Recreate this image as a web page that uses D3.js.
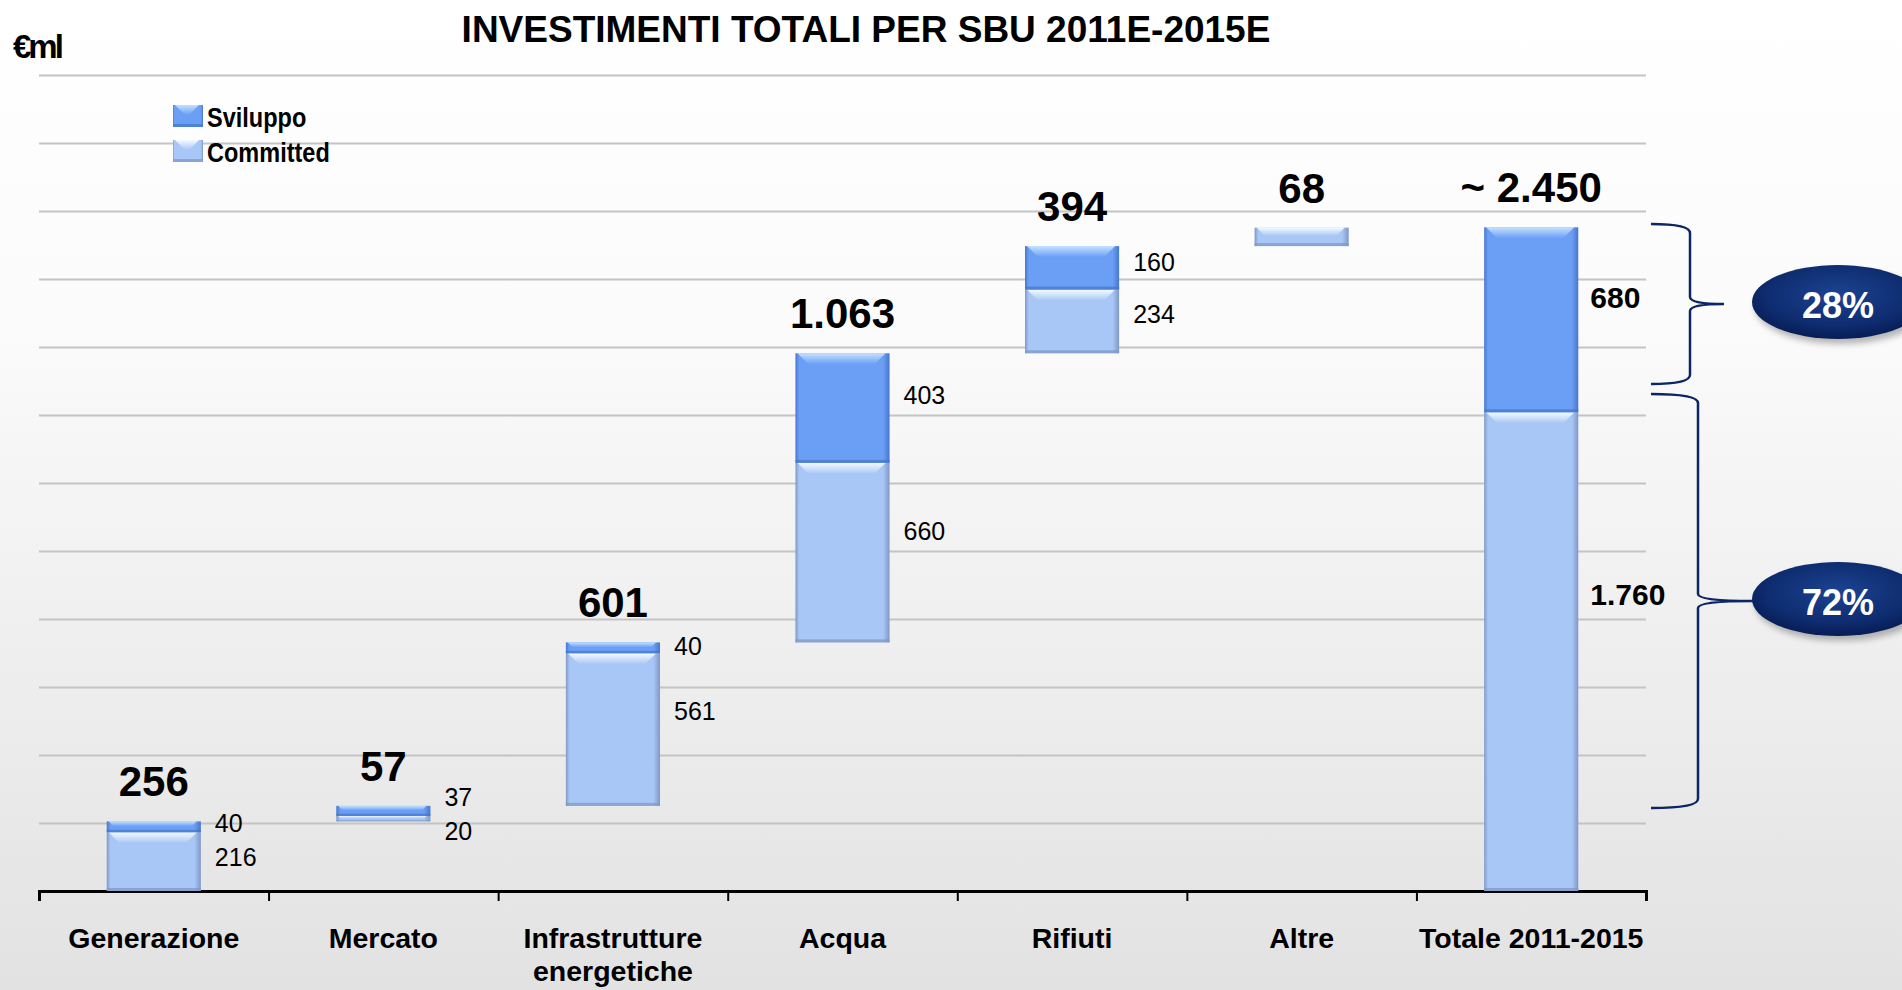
<!DOCTYPE html>
<html>
<head>
<meta charset="utf-8">
<script src="https://cdn.jsdelivr.net/npm/d3@7"></script>
<style>
    html, body { margin: 0; padding: 0; overflow: hidden; background: #fff; }
    svg { display: block; }
    text { font-family: "Liberation Sans", Arial, sans-serif; }
</style>
</head>
<body>
<svg id="main"></svg>
<script>
const width = 1902;
const height = 990;
const position = {
    left: 39,
    top: 75,
    right: 256,
    bottom: 99
};
const innerWidth = width - position.left - position.right;
const innerHeight = height - position.top - position.bottom;

// dati (milioni di euro)
const categories = ['Generazione', 'Mercato', 'Infrastrutture energetiche', 'Acqua', 'Rifiuti', 'Altre', 'Totale 2011-2015'];
const committed = [216, 20, 561, 660, 234, 68, 1760];
const sviluppo = [40, 37, 40, 403, 160, 0, 680];
const seriesNames = ['Sviluppo', 'Committed'];
const shareLabels = ['28%', '72%'];
const yTicks = d3.range(250, 3001, 250);

const it = d3.formatLocale({ decimal: ',', thousands: '.', grouping: [3], currency: ['€', ''] });
const fmt = it.format(',d');

// cascata: ogni SBU parte dove finisce la precedente, il totale parte da zero
let running = 0;
const rows = categories.map((name, i) => {
    const isTotal = i === categories.length - 1;
    const base = isTotal ? 0 : running;
    const total = committed[i] + sviluppo[i];
    if (!isTotal) running += total;
    return { name, base, total, isTotal, committed: committed[i], sviluppo: sviluppo[i] };
});

const mainSvg = d3.select('#main').attr('width', width).attr('height', height);

const colors = {
    sv: { base: '#6b9ff6', dark: '#4677cc', light: '#c4e2ff' },
    co: { base: '#a8c7f6', dark: '#8098c6', light: '#f4fbff' }
};

const defs = mainSvg.append('defs');
const bg = defs.append('linearGradient').attr('id', 'bg').attr('x1', 0).attr('y1', 0).attr('x2', 0).attr('y2', 1);
bg.append('stop').attr('offset', '0%').attr('stop-color', '#ffffff');
bg.append('stop').attr('offset', '32%').attr('stop-color', '#fbfbfb');
bg.append('stop').attr('offset', '100%').attr('stop-color', '#e2e2e2');

Object.keys(colors).forEach(k => {
    const c = colors[k];
    const side = defs.append('linearGradient').attr('id', `side-${k}`);
    side.append('stop').attr('offset', '0%').attr('stop-color', c.dark);
    side.append('stop').attr('offset', '4%').attr('stop-color', c.base);
    side.append('stop').attr('offset', '93%').attr('stop-color', c.base);
    side.append('stop').attr('offset', '100%').attr('stop-color', c.dark);
    const hl = defs.append('linearGradient').attr('id', `hl-${k}`).attr('x1', 0).attr('y1', 0).attr('x2', 0).attr('y2', 1);
    hl.append('stop').attr('offset', '0%').attr('stop-color', c.light);
    hl.append('stop').attr('offset', '100%').attr('stop-color', c.base);
});

const pill = defs.append('radialGradient').attr('id', 'pill').attr('cx', '50%').attr('cy', '40%').attr('r', '60%');
pill.append('stop').attr('offset', '0%').attr('stop-color', '#1c4392');
pill.append('stop').attr('offset', '70%').attr('stop-color', '#0e2c6f');
pill.append('stop').attr('offset', '100%').attr('stop-color', '#071d55');
defs.append('filter').attr('id', 'blur').append('feGaussianBlur').attr('stdDeviation', 3);

mainSvg.append('rect').attr('width', width).attr('height', height).attr('fill', 'url(#bg)');

const mainGroup = mainSvg
    .append('g')
    .attr('transform', `translate(${position.left}, ${position.top})`);

// scale
const xScale = d3
    .scaleBand()
    .domain(categories)
    .range([0, innerWidth])
    .paddingInner(0.59)
    .paddingOuter(0.295);
const yScale = d3
    .scaleLinear()
    .domain([0, 3000])
    .range([innerHeight, 0]);

// griglia
const grid = mainGroup
    .append('g')
    .attr('class', 'grid')
    .call(d3.axisLeft(yScale).tickValues(yTicks).tickSize(-innerWidth).tickFormat(''));
grid.select('.domain').remove();
grid.selectAll('line').attr('stroke', '#c4c4c4').attr('stroke-width', 2);

// asse x: tacche ai confini tra le categorie
const edgeScale = d3.scaleLinear().domain([0, categories.length]).range([0, innerWidth]);
const edgeAxis = mainGroup
    .append('g')
    .attr('transform', `translate(0,${innerHeight})`)
    .call(d3.axisBottom(edgeScale).tickValues(d3.range(categories.length + 1)).tickSize(10).tickSizeOuter(10).tickFormat(''));
edgeAxis.select('.domain').attr('stroke', '#000').attr('stroke-width', 3);
edgeAxis.selectAll('line').attr('stroke', '#000').attr('stroke-width', 2);

const labelAxis = mainGroup
    .append('g')
    .attr('transform', `translate(0,${innerHeight})`)
    .call(d3.axisBottom(xScale).tickSize(0).tickPadding(37));
labelAxis.select('.domain').remove();
labelAxis
    .selectAll('text')
    .attr('fill', '#000')
    .attr('font-size', 28.5)
    .attr('font-weight', 'bold')
    .each(function (d) {
        const t = d3.select(this);
        if (this.getComputedTextLength() > xScale.step() * 1.1) {
            const words = d.split(' ');
            t.text(null);
            words.forEach((w, j) => {
                t.append('tspan').attr('x', 0).attr('dy', j === 0 ? '0.71em' : '1.16em').text(w);
            });
            t.attr('dy', null);
        }
    });

// barre
function drawSegment(g, x, yTop, yBottom, w, k) {
    const h = yBottom - yTop;
    const c = colors[k];
    g.append('rect')
        .attr('x', x).attr('y', yTop).attr('width', w).attr('height', h)
        .attr('fill', `url(#side-${k})`);
    const b = Math.min(11, h * 0.45);
    g.append('path')
        .attr('d', `M${x + 2},${yTop} H${x + w - 4} L${x + w - 4 - b},${yTop + b} H${x + 2 + b} Z`)
        .attr('fill', `url(#hl-${k})`);
    const e = Math.min(3, h * 0.22);
    g.append('rect')
        .attr('x', x).attr('y', yBottom - e).attr('width', w).attr('height', e)
        .attr('fill', c.dark).attr('opacity', 0.75);
}

const bw = xScale.bandwidth();
rows.forEach(r => {
    const g = mainGroup.append('g').attr('class', 'bar');
    const x = xScale(r.name);
    const yBase = yScale(r.base);
    const yMid = yScale(r.base + r.committed);
    const yTop = yScale(r.base + r.total);
    drawSegment(g, x, yMid, yBase, bw, 'co');
    if (r.sviluppo > 0) drawSegment(g, x, yTop, yMid, bw, 'sv');

    // etichetta totale sopra la barra
    g.append('text')
        .attr('x', x + bw / 2)
        .attr('y', yTop - 25)
        .attr('text-anchor', 'middle')
        .attr('font-size', 42)
        .attr('font-weight', 'bold')
        .text(r.isTotal ? '~ ' + fmt(Math.round(r.total / 50) * 50) : fmt(r.total));

    // etichette dei due segmenti
    if (r.sviluppo > 0) {
        let ySv = yTop + (yMid - yTop) * 0.38;
        let yCo = yMid + (yBase - yMid) * 0.38;
        if (yCo - ySv < 34) {
            const m = (ySv + yCo) / 2;
            ySv = m - 17;
            yCo = m + 17;
        }
        [[r.sviluppo, ySv], [r.committed, yCo]].forEach(([v, yy]) => {
            g.append('text')
                .attr('x', x + bw + (r.isTotal ? 12 : 14))
                .attr('y', yy)
                .attr('dy', '0.35em')
                .attr('font-size', r.isTotal ? 30 : 25)
                .attr('font-weight', r.isTotal ? 'bold' : 'normal')
                .text(fmt(v));
        });
    }
});

// parentesi graffe e percentuali sul totale
function brace(x0, xs, xt, y0, y1) {
    const ym = (y0 + y1) / 2;
    return `M${x0},${y0} Q${xs},${y0} ${xs},${y0 + 9} L${xs},${ym - 7} Q${xs},${ym} ${xt},${ym}` +
        ` Q${xs},${ym} ${xs},${ym + 7} L${xs},${y1 - 9} Q${xs},${y1} ${x0},${y1}`;
}
const braces = [
    { from: 2452, to: 1864, spine: 44, tip: 78 },
    { from: 1827, to: 305, spine: 52, tip: 107 }
];
braces.forEach((b, i) => {
    const x0 = innerWidth + 5;
    const y0 = yScale(b.from);
    const y1 = yScale(b.to);
    const ym = (y0 + y1) / 2;
    mainGroup.append('path')
        .attr('d', brace(x0, innerWidth + b.spine, innerWidth + b.tip, y0, y1))
        .attr('fill', 'none')
        .attr('stroke', '#0b2565')
        .attr('stroke-width', 2.5);
    const cx = 1838 - position.left;
    const cy = ym - 2;
    mainGroup.append('ellipse')
        .attr('cx', cx + 3).attr('cy', cy + 5).attr('rx', 86).attr('ry', 37)
        .attr('fill', '#7a7a7a').attr('opacity', 0.55).attr('filter', 'url(#blur)');
    mainGroup.append('ellipse')
        .attr('cx', cx).attr('cy', cy).attr('rx', 86).attr('ry', 37)
        .attr('fill', 'url(#pill)');
    mainGroup.append('text')
        .attr('x', cx).attr('y', cy + 16)
        .attr('text-anchor', 'middle')
        .attr('fill', '#fff')
        .attr('font-size', 36)
        .attr('font-weight', 'bold')
        .text(shareLabels[i]);
});

// legenda
const legend = mainSvg.append('g').attr('transform', 'translate(173,105)');
seriesNames.forEach((name, i) => {
    const k = i === 0 ? 'sv' : 'co';
    const g = legend.append('g').attr('transform', `translate(0,${i * 35})`);
    drawSegment(g, 0, 0, 22, 30, k);
    g.append('text')
        .attr('transform', 'translate(34,22) scale(0.84,1)')
        .attr('font-size', 28)
        .attr('font-weight', 'bold')
        .text(name);
});

// titolo e unità
mainSvg.append('text')
    .attr('x', 866)
    .attr('y', 42)
    .attr('text-anchor', 'middle')
    .attr('font-size', 37)
    .attr('font-weight', 'bold')
    .text('INVESTIMENTI TOTALI PER SBU 2011E-2015E');
mainSvg.append('text')
    .attr('x', 13)
    .attr('y', 58)
    .attr('font-size', 33)
    .attr('font-weight', 'bold')
    .attr('letter-spacing', -3)
    .text('€ml');
</script>
</body>
</html>
